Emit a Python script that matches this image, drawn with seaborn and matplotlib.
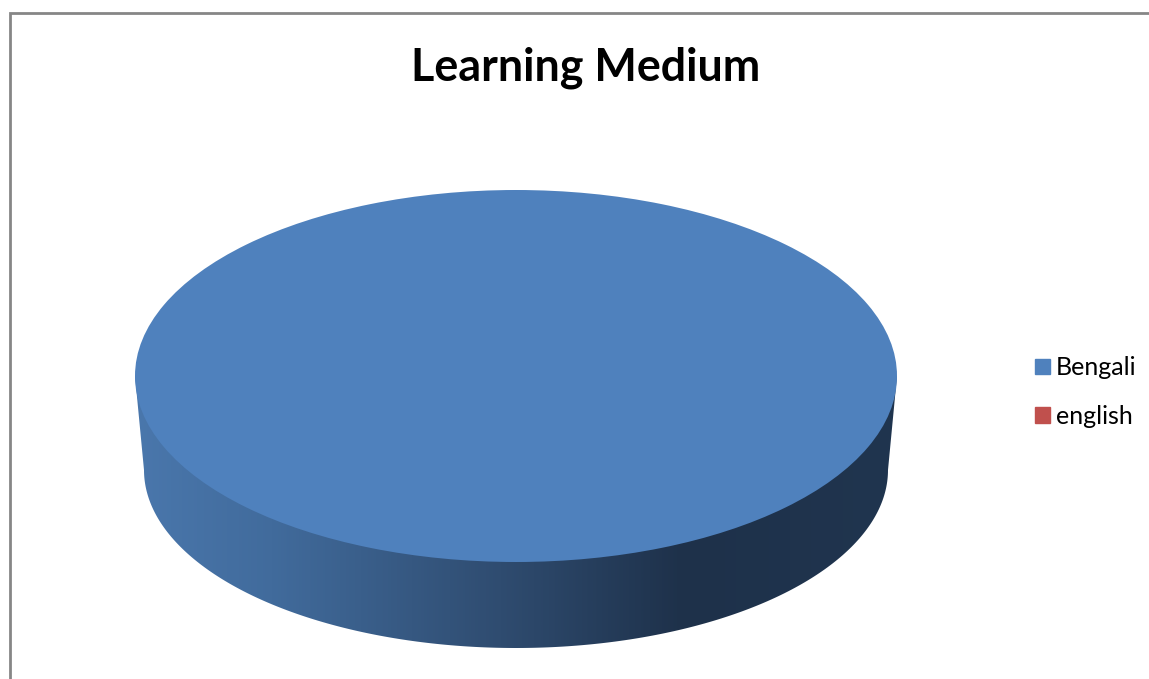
import numpy as np
import matplotlib
matplotlib.use("Agg")
import matplotlib.pyplot as plt
from matplotlib.colors import LinearSegmentedColormap
from matplotlib.patches import Patch, Polygon, Rectangle
import seaborn as sns

categories = ["Bengali", "english"]
shares = [100, 0]
colors = ["#4F81BD", "#C0504D"]
chart_title = "Learning Medium"

sns.set_theme(style="white")
plt.rcParams["font.family"] = ["Lato", "DejaVu Sans"]
sns.set_palette(colors)

W, H = 1149, 679
fig = plt.figure(figsize=(W / 100, H / 100), dpi=100, facecolor="white")
ax = fig.add_axes([0, 0, 1, 1])

# Pixel geometry of the tilted disc
cx, cy, rx, ry = 516, 376, 381, 186
bx, by, brx, bry = 516, 470, 372, 178
sy = rx / ry
Y = lambda p: (cy - np.asarray(p, dtype=float)) * sy

# Rim: horizontal gradient clipped to the silhouette of the disc's side
t = np.linspace(np.pi, 2 * np.pi, 240)
rim_x = bx + brx * np.cos(t)
rim_y = by - bry * np.sin(t)
outline = np.column_stack([
    np.r_[cx - rx, rim_x, cx + rx],
    Y(np.r_[cy, rim_y, cy]),
])
cmap = LinearSegmentedColormap.from_list(
    "rim",
    [(0.0, "#4A77AC"), (0.18, "#416B9C"), (0.48, "#2F4C70"),
     (0.72, "#1E314A"), (1.0, "#20354F")],
)
grad = np.linspace(0, 1, 512).reshape(1, -1)
img = ax.imshow(grad, cmap=cmap, aspect="auto", zorder=1,
                extent=(cx - rx, cx + rx, Y(H), Y(0)))
clip = Polygon(outline, closed=True, transform=ax.transData, fc="none", ec="none")
ax.add_patch(clip)
img.set_clip_path(clip)

# Top face
wedges, _ = ax.pie(shares, colors=colors, center=(cx, 0), radius=rx,
                   startangle=90, wedgeprops={"linewidth": 0, "zorder": 2})
ax.set_aspect("auto")
ax.set_xlim(0, W)
ax.set_ylim(Y(H), Y(0))
ax.axis("off")

# Chart-area border (runs off the right and bottom of the picture)
fig.add_artist(Rectangle((9.5 / W, -0.02), 1.1, 1 - 13 / H + 0.02,
                         transform=fig.transFigure, fc="none",
                         ec="#868686", lw=2))

fig.text(586 / W, 1 - 68 / H, chart_title, ha="center", va="center",
         fontsize=32.3, fontweight="bold", color="black")

handles = [Patch(color=c, label=n) for c, n in zip(colors, categories)]
fig.legend(handles=handles, loc="center left",
           bbox_to_anchor=(1035 / W, 1 - 392 / H), frameon=False,
           fontsize=18, labelcolor="black", handlelength=0.58, handleheight=0.58,
           handletextpad=0.25, labelspacing=1.01, borderpad=0, borderaxespad=0)

fig.savefig("out.png", dpi=100, facecolor="white")
